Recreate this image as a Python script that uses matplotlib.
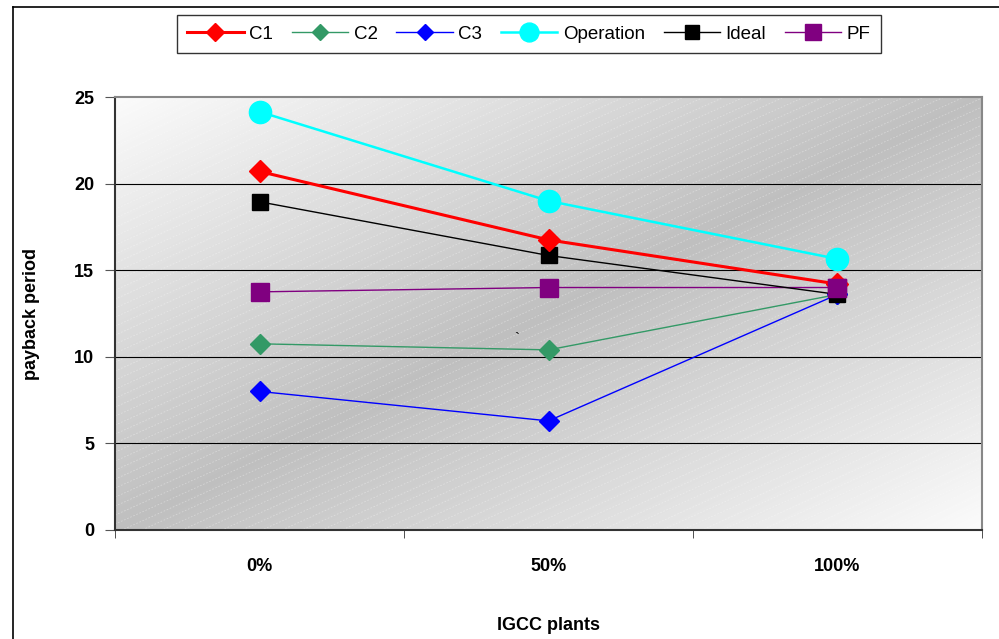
import numpy as np
import matplotlib.pyplot as plt
from matplotlib.lines import Line2D

plt.rcParams['font.family'] = ['Liberation Sans', 'DejaVu Sans']

categories = ["0%", "50%", "100%"]
c1 = [20.7, 16.75, 14.2]
c2 = [10.75, 10.4, 13.6]
c3 = [8.0, 6.3, 13.6]
operation = [24.15, 19.0, 15.65]
ideal = [18.95, 15.85, 13.6]
pf = [13.75, 14.0, 14.0]

fig = plt.figure(figsize=(9.99, 6.39), dpi=100)
ax = fig.add_axes([115 / 999, 1 - 530 / 639, 867 / 999, 433 / 639])

# gradient background: light at top-left and bottom-right corners, grey along the other diagonal
gx, gy = np.meshgrid(np.linspace(0, 1, 400), np.linspace(1, 0, 200))
d = np.abs(gx - gy)
shade = 0.75 + 0.235 * d
ax.imshow(np.dstack([shade, shade, shade]), extent=[0, 1, 0, 1], transform=ax.transAxes,
          aspect='auto', zorder=0, interpolation='bilinear')

# faint diagonal dashed hatch
W, H = 867, 433
for off in np.arange(-W * 0.45, H, 9):
    xs = np.array([0, W])
    ys = off + 0.45 * xs
    ax.plot(xs / W, ys / H, transform=ax.transAxes, color='white', lw=0.6,
            alpha=0.35, ls=(0, (2, 2)), zorder=0.5, clip_on=True)

x = np.arange(len(categories))
ax.plot(x, pf, color='#800080', lw=1.0, marker='s', ms=13, mfc='#800080', mec='#800080', label='PF', zorder=3)
ax.plot(x, c2, color='#339966', lw=1.0, marker='D', ms=10, mfc='#339966', mec='#339966', label='C2', zorder=3)
ax.plot(x, c3, color='#0000ff', lw=1.0, marker='D', ms=10, mfc='#0000ff', mec='#0000ff', label='C3', zorder=3)
ax.plot(x, ideal, color='black', lw=1.0, marker='s', ms=12, mfc='black', mec='black', label='Ideal', zorder=3)
ax.plot(x, c1, color='#ff0000', lw=2.2, marker='D', ms=11, mfc='#ff0000', mec='#ff0000', label='C1', zorder=4)
ax.plot(x, operation, color='#00ffff', lw=1.8, marker='o', ms=16, mfc='#00ffff', mec='#00ffff',
        label='Operation', zorder=4)
# PF marker at 100% sits on top
ax.plot(x[2:], pf[2:], ls='none', marker='s', ms=13, mfc='#800080', mec='#800080', zorder=5)

ax.text(0.89, 11.0, "`", fontsize=11, ha='center', va='center', zorder=3)

ax.set_xlim(-0.5, 2.5)
ax.set_ylim(0, 25)
ax.set_yticks([0, 5, 10, 15, 20, 25])
ax.set_xticks(x)
ax.set_xticklabels(categories)
ax.set_xticks([-0.5, 0.5, 1.5, 2.5], minor=True)
ax.tick_params(axis='x', which='major', length=0, pad=20, labelsize=13)
ax.tick_params(axis='x', which='minor', length=6, direction='out', color='#333333')
ax.tick_params(axis='y', length=7, direction='out', color='#555555', labelsize=13, pad=8)
for lab in ax.get_xticklabels() + ax.get_yticklabels():
    lab.set_fontweight('bold')

for yv in [5, 10, 15, 20]:
    ax.axhline(yv, color='black', lw=0.8, zorder=1)

ax.spines['left'].set_color('#333333')
ax.spines['bottom'].set_color('#333333')
ax.spines['top'].set_color('#888888')
ax.spines['right'].set_color('#888888')
for s in ax.spines.values():
    s.set_linewidth(1.5)

ax.set_ylabel("payback period", fontsize=13, fontweight='bold')
ax.yaxis.set_label_coords(-0.086, 0.5)
ax.set_xlabel("IGCC plants", fontsize=13, fontweight='bold')
ax.xaxis.set_label_coords(0.5, -0.2)

handles, labels = ax.get_legend_handles_labels()
order = ['C1', 'C2', 'C3', 'Operation', 'Ideal', 'PF']
hmap = dict(zip(labels, handles))
leg = fig.legend([hmap[k] for k in order], order, loc='center',
                 bbox_to_anchor=(529 / 999, 1 - 34 / 639), ncol=6, fontsize=13.5,
                 frameon=True, fancybox=False, edgecolor='black', handlelength=3.0,
                 columnspacing=1.0, handletextpad=0.3, borderpad=0.55, markerscale=0.85)
leg.get_frame().set_linewidth(1.0)

# outer frame of the chart object
fig.add_artist(Line2D([13 / 999, 13 / 999], [0, 1 - 7 / 639], color='black', lw=1.2))
fig.add_artist(Line2D([13 / 999, 1], [1 - 7 / 639, 1 - 7 / 639], color='black', lw=1.2))

fig.savefig("out.png", dpi=100)
